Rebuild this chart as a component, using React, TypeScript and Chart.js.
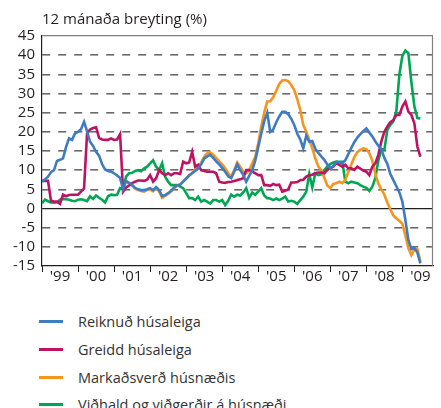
import React, { useEffect, useRef } from "react";
import { Chart, registerables } from "chart.js";

Chart.register(...registerables);

// Month index 0 = Jan 1999, last = Jul 2009
const yearLabels = ["'99", "'00", "'01", "'02", "'03", "'04", "'05", "'06", "'07", "'08", "'09"];

const titleText = "12 mánaða breyting (%)";

const seriesNames = [
  "Reiknuð húsaleiga",
  "Greidd húsaleiga",
  "Markaðsverð húsnæðis",
  "Viðhald og viðgerðir á húsnæði",
];

const seriesColors = ["#3d7cc4", "#be1363", "#f7941d", "#00a651"];

const reiknud = [
  7.0, 7.6, 8.3, 9.5, 10.0, 12.4, 12.7, 13.1, 16.0, 18.3, 17.9, 19.6,
  20.0, 20.7, 22.6, 20.2, 17.4, 16.3, 14.8, 13.8, 11.6, 10.2, 9.8, 9.6,
  9.2, 8.6, 8.0, 5.0, 7.2, 6.7, 6.2, 5.4, 5.0, 4.8, 4.8, 5.0,
  5.3, 4.8, 5.6, 4.8, 3.2, 3.5, 4.0, 4.6, 5.5, 6.0, 6.2, 7.0,
  7.8, 8.6, 9.2, 9.8, 10.4, 11.5, 13.0, 13.6, 14.0, 13.2, 12.3, 11.5,
  10.6, 9.6, 8.4, 7.9, 9.6, 11.5, 10.0, 8.8, 7.0, 8.5, 10.0, 12.5,
  16.0, 19.5, 22.8, 25.0, 20.0, 20.6, 22.5, 24.0, 25.2, 25.2, 24.6, 23.4,
  21.8, 19.5, 18.0, 15.7, 19.0, 17.4, 17.6, 15.6, 14.5, 13.6, 12.7, 11.5,
  10.5, 11.0, 12.2, 12.0, 11.8, 12.6, 14.2, 15.8, 17.3, 18.5, 19.4, 20.2,
  20.9, 19.8, 18.8, 17.5, 16.4, 15.4, 13.2, 11.6, 9.0, 7.4, 5.8, 4.2,
  1.8, -3.0, -8.2, -10.6, -10.3, -11.5, -14.3,
];

const greidd = [
  7.2, 7.2, 7.2, 2.0, 1.8, 1.8, 1.2, 3.6, 3.2, 3.5, 3.6, 3.6,
  3.6, 4.4, 5.2, 19.5, 20.6, 21.0, 21.2, 18.4, 18.0, 17.9, 17.9, 18.3,
  17.9, 18.0, 19.4, 4.4, 5.5, 6.0, 6.6, 7.0, 7.3, 7.3, 7.2, 7.5,
  8.7, 7.0, 7.9, 10.0, 9.2, 8.7, 9.2, 8.7, 9.2, 9.2, 9.0, 12.2,
  11.8, 12.0, 14.8, 10.9, 11.4, 10.0, 9.8, 9.6, 9.6, 9.6, 9.2, 7.0,
  6.8, 6.7, 6.9, 7.0, 7.2, 7.4, 7.6, 7.9, 10.0, 10.0, 9.6, 9.2,
  8.7, 8.7, 6.1, 6.1, 5.9, 6.4, 6.1, 6.2, 4.4, 4.6, 5.0, 6.8,
  6.8, 6.9, 7.4, 7.5, 8.3, 8.7, 8.8, 9.2, 9.4, 9.4, 9.2, 10.1,
  10.6, 10.9, 11.8, 11.4, 10.9, 11.4, 10.5, 10.5, 10.1, 10.9, 10.4, 9.9,
  9.6, 8.7, 10.9, 11.8, 14.0, 17.5, 20.0, 21.4, 22.5, 23.1, 24.4, 24.4,
  26.6, 27.9, 25.3, 24.4, 22.2, 16.1, 13.5,
];

const markadsverd = [
  null, null, null, null, null, null, null, null, null, null, null, null,
  null, null, null, null, null, null, null, null, null, null, null, null,
  null, null, 8.0, 6.0, 7.0, 6.5, 6.0, 5.2, 4.8, 4.6, 4.4, 4.8,
  5.0, 4.5, 5.3, 4.5, 2.8, 3.3, 3.8, 4.5, 5.3, 6.0, 6.3, 7.0,
  7.8, 8.6, 9.3, 10.2, 11.0, 12.0, 13.5, 14.4, 14.6, 14.0, 13.2, 12.3,
  11.5, 10.5, 9.2, 8.3, 10.0, 12.0, 10.9, 9.6, 9.2, 10.0, 11.8, 13.5,
  17.0, 21.3, 25.0, 27.9, 28.0, 29.0, 30.7, 32.5, 33.4, 33.5, 33.2, 32.2,
  30.9, 28.5, 25.7, 21.8, 20.0, 17.9, 15.7, 13.1, 11.0, 10.0, 8.0, 6.0,
  5.3, 6.4, 6.6, 7.0, 6.6, 7.4, 9.6, 11.5, 13.4, 14.7, 15.3, 15.7,
  15.5, 14.4, 12.5, 9.0, 6.5, 5.0, 3.6, 1.5, -0.2, -1.8, -2.6, -3.2,
  -4.0, -7.0, -10.4, -12.2, -10.6, -10.6, -13.9,
];

const vidhald = [
  1.4, 2.3, 1.9, 1.6, 1.5, 1.6, 2.3, 2.5, 2.4, 2.3, 2.0, 1.9,
  2.3, 2.4, 2.2, 1.9, 3.2, 2.5, 3.4, 2.8, 2.3, 1.6, 3.2, 3.6,
  3.5, 3.6, 5.3, 5.0, 8.3, 9.2, 9.3, 9.8, 10.0, 9.7, 10.5, 10.9,
  11.8, 12.6, 10.9, 10.0, 11.8, 8.3, 7.0, 6.1, 6.1, 6.1, 5.7, 5.3,
  4.0, 2.7, 2.7, 2.2, 3.1, 1.8, 2.2, 1.8, 1.3, 2.2, 2.2, 1.8,
  2.2, 0.9, 2.0, 3.6, 3.1, 3.6, 3.4, 4.2, 5.3, 2.8, 4.2, 3.6,
  4.4, 5.3, 3.4, 2.7, 2.6, 2.2, 2.6, 2.2, 2.6, 3.1, 1.8, 2.0,
  1.8, 1.2, 2.2, 3.1, 4.4, 9.0, 5.5, 9.2, 8.7, 8.9, 10.0, 10.9,
  11.6, 12.0, 12.2, 12.2, 12.2, 7.0, 6.6, 7.0, 6.8, 6.6, 6.1, 5.7,
  5.4, 4.6, 5.7, 8.0, 12.5, 15.5, 15.3, 20.5, 21.8, 22.7, 25.5, 35.0,
  39.8, 41.2, 40.5, 33.0, 26.6, 23.6, 23.5,
];

const seriesValues = [reiknud, greidd, markadsverd, vidhald];

const yMin = -15;
const yMax = 45;
const yStep = 5;
const xMaxMonths = 130.2;

const FONT = "'Open Sans', 'DejaVu Sans', sans-serif";

const framePlugin = {
  id: "frameRight",
  afterDraw(chart: any) {
    const { ctx, chartArea } = chart;
    ctx.save();
    ctx.strokeStyle = "#808080";
    ctx.lineWidth = 1.2;
    ctx.beginPath();
    ctx.moveTo(chartArea.right - 0.5, chartArea.top);
    ctx.lineTo(chartArea.right - 0.5, chartArea.bottom);
    ctx.stroke();
    ctx.restore();
  },
};

export default function App() {
  const ref = useRef<HTMLCanvasElement | null>(null);

  useEffect(() => {
    if (!ref.current) return;
    const datasets = seriesValues.map((arr, k) => ({
      label: seriesNames[k],
      data: arr.map((v, i) => ({ x: i, y: v })),
      borderColor: seriesColors[k],
      backgroundColor: seriesColors[k],
      borderWidth: 2.6,
      pointRadius: 0,
      tension: 0,
      spanGaps: false,
      fill: false,
    }));

    const chart = new Chart(ref.current, {
      type: "line",
      data: { datasets } as any,
      options: {
        responsive: false,
        animation: false,
        layout: { padding: { left: 0, right: 8, top: 0, bottom: 0 } },
        plugins: {
          legend: { display: false },
          tooltip: { enabled: false },
          title: {
            display: true,
            text: titleText,
            align: "start",
            fullSize: false,
            color: "#231f20",
            font: { family: FONT, size: 15, weight: "normal" },
            padding: { top: 11, bottom: 7 },
          },
        },
        scales: {
          x: {
            type: "linear",
            min: 0,
            max: xMaxMonths,
            afterFit: (s: any) => {
              s.height = 34;
            },
            afterBuildTicks: (s: any) => {
              const t: any[] = [];
              for (let k = 0; k < yearLabels.length; k++) {
                t.push({ value: k * 12 });
                t.push({ value: k * 12 + 6 });
              }
              s.ticks = t;
            },
            ticks: {
              autoSkip: false,
              maxRotation: 0,
              minRotation: 0,
              padding: -4,
              color: "#231f20",
              font: { family: FONT, size: 15 },
              callback: (value: any) => {
                const v = Number(value);
                return v % 12 === 6 ? yearLabels[(v - 6) / 12] : "";
              },
            },
            grid: {
              display: true,
              drawOnChartArea: false,
              drawTicks: true,
              tickLength: 6,
              tickWidth: 1,
              tickColor: (ctx: any) =>
                ctx.tick && ctx.tick.value % 12 === 0 ? "#231f20" : "rgba(0,0,0,0)",
            },
            border: { display: true, color: "#231f20", width: 1.2 },
          },
          y: {
            min: yMin,
            max: yMax,
            afterFit: (s: any) => {
              s.width = 42;
            },
            ticks: {
              stepSize: yStep,
              autoSkip: false,
              padding: 7,
              color: "#231f20",
              font: { family: FONT, size: 15 },
            },
            grid: {
              drawTicks: false,
              color: (ctx: any) => {
                const v = ctx.tick ? ctx.tick.value : null;
                if (v === 0) return "#231f20";
                if (v === yMax) return "#808080";
                if (v === yMin) return "rgba(0,0,0,0)";
                return "#6a6a6a";
              },
              lineWidth: (ctx: any) => {
                const v = ctx.tick ? ctx.tick.value : null;
                if (v === 0) return 1.2;
                if (v === yMax) return 1.2;
                return 1.6;
              },
            },
            border: {
              display: true,
              color: "#231f20",
              width: 1.2,
              dash: (ctx: any) => {
                const v = ctx.tick ? ctx.tick.value : null;
                if (v === null || v === 0 || v === yMax) return [];
                return [8, 8];
              },
            } as any,
          },
        },
      } as any,
      plugins: [framePlugin],
    });
    return () => chart.destroy();
  }, []);

  const legendRowsY = [321, 349, 377, 404];

  return (
    <div style={{ position: "absolute", left: 0, top: 0, width: 441, height: 408, overflow: "hidden" }}>
      <canvas ref={ref} width={441} height={300} style={{ position: "absolute", left: 0, top: 0 }} />
      {seriesNames.map((name, k) => (
        <div
          key={name}
          style={{
            position: "absolute",
            left: 39,
            top: legendRowsY[k] - 11,
            height: 22,
            display: "flex",
            alignItems: "center",
            whiteSpace: "nowrap",
            fontFamily: FONT,
            fontSize: 14.5,
            color: "#333333",
          }}
        >
          <span
            style={{
              display: "inline-block",
              width: 24,
              height: 3,
              background: seriesColors[k],
              marginRight: 15,
            }}
          />
          <span>{name}</span>
        </div>
      ))}
    </div>
  );
}
